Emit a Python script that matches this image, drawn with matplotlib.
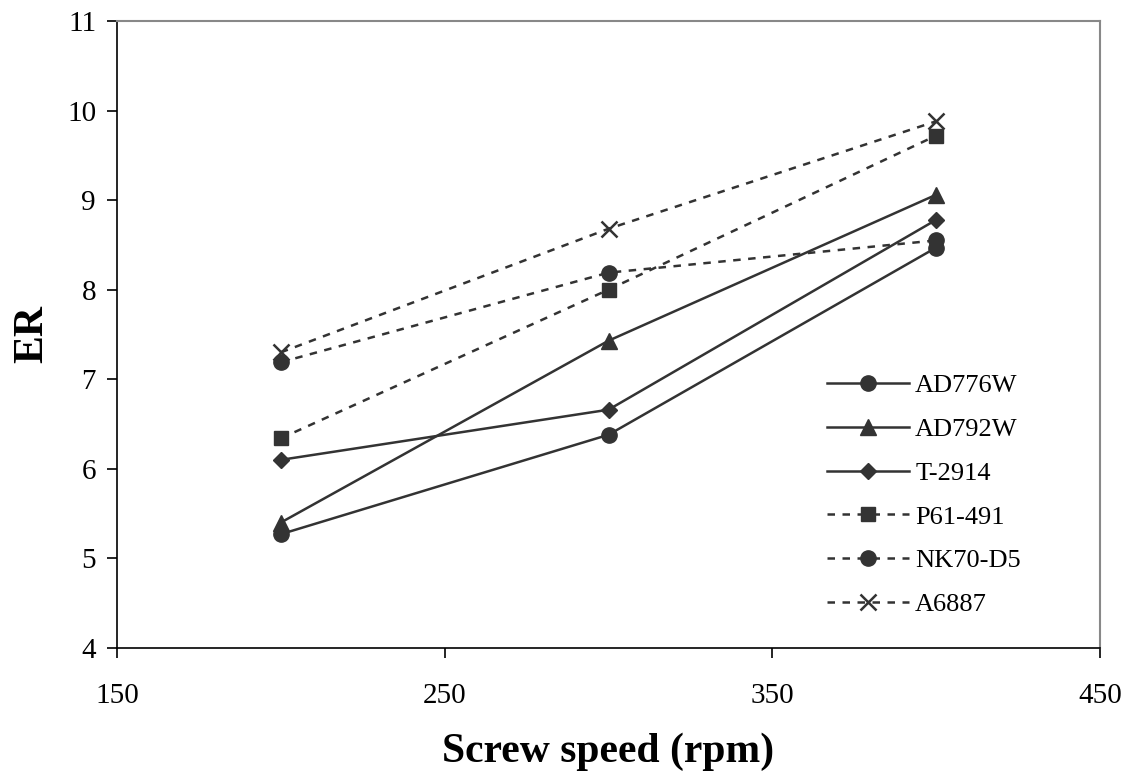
import matplotlib
matplotlib.use('Agg')
import matplotlib.pyplot as plt

plt.rcParams['font.family'] = ['Liberation Serif', 'DejaVu Serif']

speed = [200, 300, 400]

ad776w = [5.27, 6.38, 8.47]
ad792w = [5.40, 7.43, 9.06]
t2914 = [6.10, 6.66, 8.78]
p61_491 = [6.34, 8.00, 9.72]
nk70_d5 = [7.19, 8.19, 8.55]
a6887 = [7.30, 8.68, 9.88]

names = ['AD776W', 'AD792W', 'T-2914', 'P61-491', 'NK70-D5', 'A6887']

col = '#333333'
dash = (0, (3, 3))

fig = plt.figure(figsize=(11.3, 7.76), dpi=100)
ax = fig.add_axes([0.1035, 0.165, 0.870, 0.808])

ax.plot(speed, ad776w, color=col, lw=1.8, marker='o', ms=11, label=names[0])
ax.plot(speed, ad792w, color=col, lw=1.8, marker='^', ms=11, label=names[1])
ax.plot(speed, t2914, color=col, lw=1.8, marker='D', ms=8.5, label=names[2])
ax.plot(speed, p61_491, color=col, lw=1.8, ls=dash, marker='s', ms=10.5, label=names[3])
ax.plot(speed, nk70_d5, color=col, lw=1.8, ls=dash, marker='o', ms=11, label=names[4])
ax.plot(speed, a6887, color=col, lw=1.8, ls=dash, marker='x', ms=11, mew=1.8, label=names[5])

ax.set_xlim(150, 450)
ax.set_ylim(4, 11)
ax.set_xticks([150, 250, 350, 450])
ax.set_yticks(range(4, 12))

ax.tick_params(axis='both', direction='out', length=7, width=1.2, labelsize=21, color='black')
ax.tick_params(axis='x', pad=18)
ax.tick_params(axis='y', pad=8)

for s in ['left', 'bottom']:
    ax.spines[s].set_color('black')
    ax.spines[s].set_linewidth(1.2)
for s in ['top', 'right']:
    ax.spines[s].set_color('#888888')
    ax.spines[s].set_linewidth(1.5)

ax.set_xlabel('Screw speed (rpm)', fontsize=30, fontweight='bold', labelpad=17)
ax.set_ylabel('ER', fontsize=30, fontweight='bold', labelpad=11)

ax.legend(loc='center left', bbox_to_anchor=(0.722, 0.244), frameon=False,
          fontsize=19, handlelength=3.1, handletextpad=0.25, labelspacing=0.77,
          borderpad=0, borderaxespad=0)

fig.savefig('out.png', dpi=100)
